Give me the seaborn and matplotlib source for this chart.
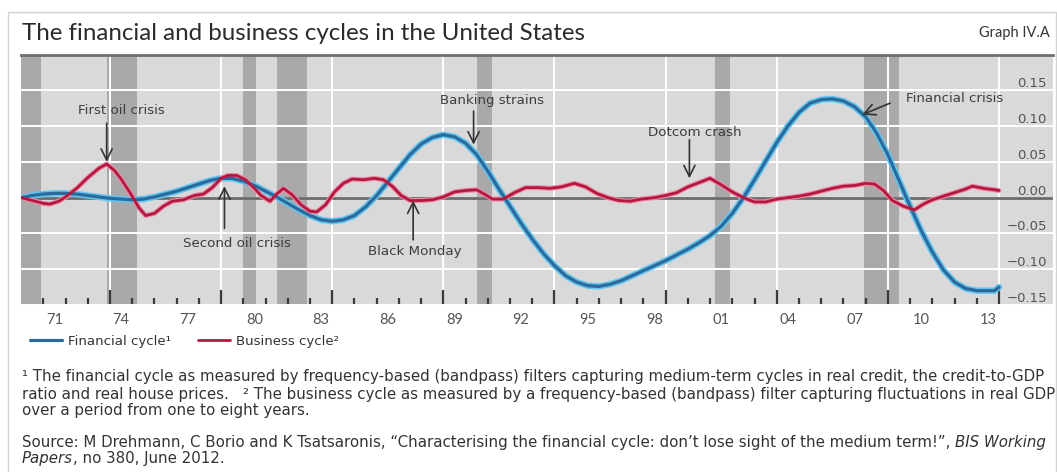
import matplotlib
matplotlib.use("Agg")
import matplotlib.pyplot as plt
from matplotlib.patches import Rectangle
import numpy as np
import pandas as pd
import seaborn as sns

# ---------------- data ----------------
fin_years = [1970.0, 1970.5, 1971.0, 1971.5, 1972.0, 1972.5, 1973.0, 1973.5, 1974.0, 1974.5,
             1975.0, 1975.5, 1976.0, 1976.5, 1977.0, 1977.5, 1978.0, 1978.5, 1979.0, 1979.5,
             1980.0, 1980.5, 1981.0, 1981.5, 1982.0, 1982.5, 1983.0, 1983.5, 1984.0, 1984.5,
             1985.0, 1985.5, 1986.0, 1986.5, 1987.0, 1987.5, 1988.0, 1988.5, 1989.0, 1989.5,
             1990.0, 1990.5, 1991.0, 1991.5, 1992.0, 1992.5, 1993.0, 1993.5, 1994.0, 1994.5,
             1995.0, 1995.5, 1996.0, 1996.5, 1997.0, 1997.5, 1998.0, 1998.5, 1999.0, 1999.5,
             2000.0, 2000.5, 2001.0, 2001.5, 2002.0, 2002.5, 2003.0, 2003.5, 2004.0, 2004.5,
             2005.0, 2005.5, 2006.0, 2006.5, 2007.0, 2007.5, 2008.0, 2008.5, 2009.0, 2009.5,
             2010.0, 2010.5, 2011.0, 2011.5, 2012.0, 2012.5, 2013.0, 2013.5, 2013.8, 2014.0]
fin_values = [0.000, 0.003, 0.005, 0.006, 0.006, 0.005, 0.003, 0.001, -0.001, -0.002,
              -0.003, -0.002, 0.001, 0.005, 0.009, 0.014, 0.019, 0.024, 0.027, 0.027,
              0.023, 0.017, 0.009, 0.001, -0.008, -0.017, -0.025, -0.031, -0.033, -0.031,
              -0.025, -0.013, 0.003, 0.022, 0.041, 0.060, 0.075, 0.084, 0.088, 0.085,
              0.076, 0.060, 0.037, 0.012, -0.012, -0.036, -0.058, -0.078, -0.095, -0.109,
              -0.118, -0.123, -0.124, -0.121, -0.116, -0.109, -0.102, -0.095, -0.088, -0.080,
              -0.072, -0.063, -0.053, -0.040, -0.022, 0.000, 0.025, 0.051, 0.077, 0.100,
              0.119, 0.132, 0.137, 0.138, 0.135, 0.127, 0.113, 0.090, 0.060, 0.024,
              -0.012, -0.046, -0.076, -0.101, -0.118, -0.127, -0.130, -0.130, -0.130, -0.125]

bus_years = [1970.0, 1970.5, 1971.0, 1971.3, 1971.7, 1972.0, 1972.5, 1973.0, 1973.5, 1973.85,
             1974.2, 1974.5, 1974.9, 1975.3, 1975.6, 1976.0, 1976.4, 1976.8, 1977.3, 1977.8,
             1978.2, 1978.6, 1979.0, 1979.3, 1979.7, 1980.1, 1980.5, 1980.8, 1981.2, 1981.5,
             1981.8, 1982.2, 1982.6, 1983.0, 1983.3, 1983.7, 1984.1, 1984.5, 1984.9, 1985.4,
             1985.9, 1986.3, 1986.7, 1987.1, 1987.5, 1988.0, 1988.5, 1989.0, 1989.5, 1990.0,
             1990.5, 1990.9, 1991.2, 1991.7, 1992.2, 1992.7, 1993.3, 1993.8, 1994.3, 1994.9,
             1995.4, 1995.9, 1996.4, 1996.9, 1997.4, 1997.9, 1998.5, 1999.0, 1999.5, 2000.0,
             2000.5, 2001.0, 2001.5, 2002.0, 2002.5, 2003.0, 2003.5, 2004.0, 2004.5, 2005.0,
             2005.5, 2006.0, 2006.5, 2007.0, 2007.5, 2008.0, 2008.4, 2008.8, 2009.2, 2009.7,
             2010.2, 2010.6, 2011.0, 2011.5, 2012.0, 2012.5, 2012.8, 2013.3, 2013.8, 2014.0]
bus_values = [0.000, -0.004, -0.008, -0.009, -0.005, 0.001, 0.013, 0.028, 0.041, 0.047,
              0.038, 0.026, 0.007, -0.014, -0.025, -0.022, -0.012, -0.005, -0.003, 0.003,
              0.005, 0.014, 0.027, 0.031, 0.031, 0.025, 0.013, 0.003, -0.005, 0.005,
              0.013, 0.004, -0.010, -0.019, -0.020, -0.010, 0.008, 0.020, 0.026, 0.025,
              0.027, 0.025, 0.016, 0.003, -0.004, -0.004, -0.003, 0.001, 0.008, 0.010,
              0.011, 0.004, -0.002, -0.002, 0.007, 0.014, 0.014, 0.013, 0.015, 0.020,
              0.015, 0.006, 0.000, -0.004, -0.005, -0.002, 0.000, 0.003, 0.007, 0.015,
              0.021, 0.027, 0.018, 0.008, 0.000, -0.006, -0.006, -0.002, 0.000, 0.002,
              0.005, 0.009, 0.013, 0.016, 0.017, 0.020, 0.019, 0.010, -0.004, -0.012,
              -0.017, -0.009, -0.003, 0.002, 0.007, 0.012, 0.016, 0.013, 0.011, 0.010]

recession_start = [1969.92, 1973.87, 1980.0, 1981.5, 1990.5, 2001.2, 2007.92]
recession_end = [1970.9, 1975.2, 1980.55, 1982.88, 1991.2, 2001.88, 2009.5]

label_years = [1971, 1974, 1977, 1980, 1983, 1986, 1989, 1992, 1995, 1998, 2001, 2004, 2007, 2010, 2013]
label_texts = ['71', '74', '77', '80', '83', '86', '89', '92', '95', '98', '01', '04', '07', '10', '13']
grid_years = [1974, 1979, 1984, 1989, 1994, 1999, 2004, 2009, 2014]
minor_years = list(range(1971, 2014))
y_ticks = [-0.15, -0.10, -0.05, 0.0, 0.05, 0.10, 0.15]
y_labels = ['\u22120.15', '\u22120.10', '\u22120.05', '0.00', '0.05', '0.10', '0.15']

event_names = ['First oil crisis', 'Second oil crisis', 'Black Monday',
               'Banking strains', 'Dotcom crash', 'Financial crisis']
event_text_xy = [(1974.5, 0.122), (1979.7, -0.064), (1987.7, -0.075),
                 (1991.2, 0.136), (2000.3, 0.0915), (2012.0, 0.1385)]
event_arrow_from = [(1973.85, 0.104), (1979.15, -0.043), (1987.64, -0.059),
                    (1990.36, 0.121), (2000.07, 0.081), (2009.1, 0.132)]
event_arrow_to = [(1973.85, 0.050), (1979.15, 0.016), (1987.64, -0.004),
                  (1990.36, 0.074), (2000.07, 0.027), (2007.85, 0.116)]

fin_df = pd.DataFrame({'year': fin_years, 'value': fin_values})
bus_df = pd.DataFrame({'year': bus_years, 'value': bus_values})

# ---------------- style ----------------
sns.set_theme(style='white')
plt.rcParams['font.family'] = ['Lato', 'DejaVu Sans']

W, H = 1057, 472
fig = plt.figure(figsize=(W / 100, H / 100), dpi=100)
fig.patch.set_facecolor('white')

left_px, right_px, top_px, bot_px = 21.1, 1053, 54.5, 305
ax = fig.add_axes([left_px / W, 1 - bot_px / H, (right_px - left_px) / W, (bot_px - top_px) / H])
ax.set_facecolor('#d9d9d9')
ax.set_xlim(1970, 2016.43)
ax.set_ylim(-0.15, 0.20)
ax.set_axisbelow(True)

# recession shading
for s, e in zip(recession_start, recession_end):
    ax.axvspan(s, e, color='#a9a9a9', lw=0, zorder=0.2)

# grid / ticks
ax.set_xticks(grid_years)
ax.set_xticks(minor_years, minor=True)
ax.tick_params(axis='x', which='major', direction='in', length=11, width=1.6,
               color='#3a3a3a', labelbottom=False, bottom=True)
ax.tick_params(axis='x', which='minor', direction='in', length=4.8, width=1.6,
               color='#3a3a3a', bottom=True)
ax.grid(axis='x', which='major', color='white', lw=1.4)

ax.set_yticks(y_ticks)
ax.set_yticklabels(y_labels)
ax.yaxis.tick_right()
ax.tick_params(axis='y', which='major', length=0, pad=-4.5, labelsize=9.5,
               labelcolor='#555555')
for lab in ax.get_yticklabels():
    lab.set_ha('right')
    lab.set_va('bottom')
    lab.set_family(['DejaVu Sans'])
ax.grid(axis='y', which='major', color='white', lw=1.4)

# x labels centred on mid-year
sec = ax.secondary_xaxis('bottom')
sec.set_xticks([y + 0.5 for y in label_years])
sec.set_xticklabels(label_texts)
sec.tick_params(length=0, pad=6, labelsize=10.5, labelcolor='#555555')
for sp in sec.spines.values():
    sp.set_visible(False)

for side in ['left', 'right', 'bottom']:
    ax.spines[side].set_visible(False)
ax.spines['top'].set_color('#6e6e6e')
ax.spines['top'].set_linewidth(2)

ax.axhline(0, color='#6b6b6b', lw=2, zorder=2)

# series
sns.lineplot(data=fin_df, x='year', y='value', ax=ax, color='#63c4ee', lw=4.6, zorder=3, legend=False)
sns.lineplot(data=bus_df, x='year', y='value', ax=ax, color='#ee8ba6', lw=3.6, zorder=4, legend=False)
sns.lineplot(data=fin_df, x='year', y='value', ax=ax, color='#2b6a9d', lw=2.3, zorder=5, legend=False)
sns.lineplot(data=bus_df, x='year', y='value', ax=ax, color='#b3183f', lw=2.0, zorder=6, legend=False)
ax.set_xlabel('')
ax.set_ylabel('')

lines = ax.get_lines()
fin_line, bus_line = lines[-2], lines[-1]

# annotations
for name, txy, a0, a1 in zip(event_names, event_text_xy, event_arrow_from, event_arrow_to):
    ax.text(txy[0], txy[1], name, ha='center', va='center', fontsize=9.6,
            color='#3d3d3d', family=['DejaVu Sans'], zorder=7)
    ax.annotate('', xy=a1, xytext=a0,
                arrowprops=dict(arrowstyle='->', color='#333333', lw=1.2,
                                mutation_scale=20, shrinkA=0, shrinkB=0), zorder=7)

# title and graph number
title = fig.text(22 / W, 1 - 33 / H, 'The financial and business cycles in the United States',
                 ha='left', va='center', fontsize=15, color='#2b2b2b')
gnum = fig.text(1050 / W, 1 - 33 / H, 'Graph IV.A', ha='right', va='center',
                fontsize=10.5, color='#333333')

# legend
leg = fig.legend([fin_line, bus_line], ['Financial cycle\u00b9', 'Business cycle\u00b2'],
                 loc='center left', bbox_to_anchor=(30 / W, 1 - 341 / H), ncol=2,
                 frameon=False, prop={'family': ['DejaVu Sans'], 'size': 9.6},
                 handlelength=2.4, handletextpad=0.45, columnspacing=2.0,
                 borderpad=0, borderaxespad=0)
for t in leg.get_texts():
    t.set_color('#333333')

# footnotes
fn_col = '#333333'
fn_fam = ['DejaVu Sans']
fn_kw = dict(fontsize=9.0, color=fn_col, family=fn_fam)
fn1 = fig.text(22 / W, 1 - 376 / H,
               '\u00b9 The financial cycle as measured by frequency-based (bandpass) filters capturing '
               'medium-term cycles in real credit, the credit-to-GDP',
               ha='left', va='center', **fn_kw)
fn2 = fig.text(22 / W, 1 - 394 / H,
               'ratio and real house prices.   \u00b2 The business cycle as measured by a frequency-based '
               '(bandpass) filter capturing fluctuations in real GDP',
               ha='left', va='center', **fn_kw)
fn3 = fig.text(22 / W, 1 - 411 / H, 'over a period from one to eight years.',
               ha='left', va='center', **fn_kw)
src1 = fig.text(22 / W, 1 - 442 / H,
                'Source: M Drehmann, C Borio and K Tsatsaronis, \u201cCharacterising the financial cycle: '
                'don\u2019t lose sight of the medium term!\u201d, ',
                ha='left', va='center', **fn_kw)
src1b = ax.annotate('BIS Working', xy=(1, 0), xycoords=src1, ha='left', va='bottom',
                    style='italic', annotation_clip=False, **fn_kw)
src2 = fig.text(22 / W, 1 - 459 / H, 'Papers', ha='left', va='center', style='italic', **fn_kw)
src2b = ax.annotate(', no 380, June 2012.', xy=(1, 0), xycoords=src2, ha='left', va='bottom',
                    annotation_clip=False, **fn_kw)

# fit widths of the long text lines to the reference
fig.canvas.draw()
r = fig.canvas.get_renderer()
def width_of(artists):
    return sum(a.get_window_extent(r).width for a in artists)
title.set_fontsize(title.get_fontsize() * 566 / width_of([title]))
widest = max(width_of([fn1]), width_of([fn2]), width_of([src1, src1b]))
f_fn = 1030 / widest
for t in [fn1, fn2, fn3, src1, src1b, src2, src2b]:
    t.set_fontsize(9.0 * f_fn)

# outer frame
fig.add_artist(Rectangle((8 / W, -0.01), (W - 9) / W, (H - 12) / H + 0.01,
                         transform=fig.transFigure, fill=False, edgecolor='#d2d2d2', lw=1))

fig.savefig('out.png', dpi=100)
